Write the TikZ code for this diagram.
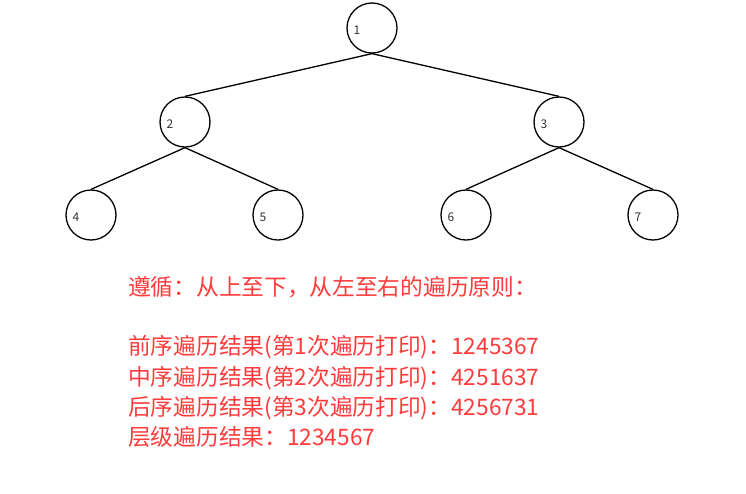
\documentclass[tikz,border=0pt]{standalone}
\usepackage{fontspec}
\usepackage{xcolor}
\usepackage{tikz}
\usetikzlibrary{positioning}
\newfontfamily\cjk{Noto Sans CJK SC}
\definecolor{txtred}{HTML}{FF3B3B}

\begin{document}
\begin{tikzpicture}[x=1pt, y=-1pt,
        knot/.style={circle, draw, line width=1.3pt, minimum size=50pt, inner sep=0pt},
        num/.style={font=\cjk\fontsize{12}{12}\selectfont, text=black!80, xshift=-15pt, yshift=-2pt},
        edge/.style={line width=1.3pt},
        rule/.style={font=\cjk\fontsize{22.7}{31}\selectfont, text=txtred, inner sep=0pt, anchor=base west}]
        \useasboundingbox (0,0) rectangle (746,493);
        % tree
        \node[knot, label={[num]center:1}] (n1) at (372,28) {};
        \node[knot, label={[num]center:2}] (n2) at (185,122) {};
        \node[knot, label={[num]center:3}] (n3) at (559,122) {};
        \node[knot, label={[num]center:4}] (n4) at (91,215) {};
        \node[knot, label={[num]center:5}] (n5) at (278,215) {};
        \node[knot, label={[num]center:6}] (n6) at (466,215) {};
        \node[knot, label={[num]center:7}] (n7) at (653,215) {};
        \draw[edge] (n1.south) -- (n2.north);
        \draw[edge] (n1.south) -- (n3.north);
        \draw[edge] (n2.south) -- (n4.north);
        \draw[edge] (n2.south) -- (n5.north);
        \draw[edge] (n3.south) -- (n6.north);
        \draw[edge] (n3.south) -- (n7.north);
        % text
        \node[rule] (head) at (128,295) {遵循：从上至下，从左至右的遍历原则：};
        \node[rule] (pre) at (128,354) {前序遍历结果(第1次遍历打印)：1245367};
        \node[rule] (mid) at (128,385) {中序遍历结果(第2次遍历打印)：4251637};
        \node[rule] (post) at (128,415) {后序遍历结果(第3次遍历打印)：4256731};
        \node[rule] (lvl) at (128,445) {层级遍历结果：1234567};
    \end{tikzpicture}
\end{document}
